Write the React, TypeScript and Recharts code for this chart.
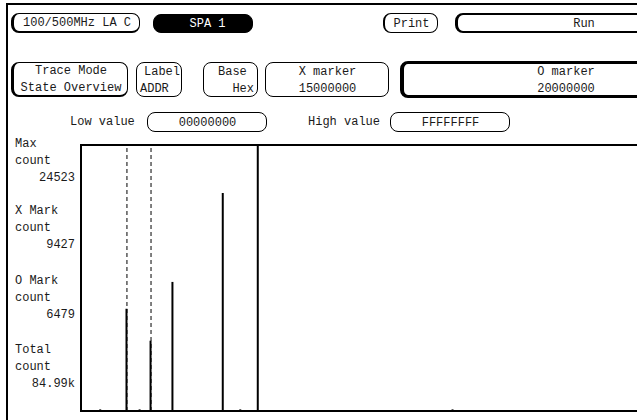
import React from 'react';
import {
  ComposedChart,
  Bar,
  XAxis,
  YAxis,
  ReferenceLine,
  ReferenceArea,
} from 'recharts';

// addresses in units of 0x01000000 (00000000..FFFFFFFF -> 0..255)
const addresses = [9, 21, 27, 32, 42, 65, 73, 81, 170];
const counts = [150, 9427, 150, 6479, 11900, 20100, 150, 24523, 150];

const X_MARKER = 0x15; // 15000000
const O_MARKER = 0x20; // 20000000
const MAX_COUNT = 24523;

const sideLabels = [
  ['Max', 'count', '24523'],
  ['X Mark', 'count', '9427'],
  ['O Mark', 'count', '6479'],
  ['Total', 'count', '84.99k'],
];
const sideLabelTops = [144, 211, 281, 350];

const data = addresses.map((a, i) => ({ addr: a, count: counts[i] }));

const FONT = '"Liberation Mono", "DejaVu Sans Mono", monospace';
const INK = '#1a1a1a';

function Btn({
  left,
  top,
  width,
  height,
  lines,
  bw = '1px',
  dark = false,
  align = 'center',
  padL = 4,
  indents = [],
}: {
  left: number;
  top: number;
  width: number;
  height: number;
  lines: string[];
  bw?: string;
  dark?: boolean;
  align?: 'center' | 'left' | 'right';
  padL?: number;
  indents?: number[];
}) {
  return (
    <div
      style={{
        position: 'absolute',
        left,
        top,
        width,
        height,
        boxSizing: 'border-box',
        borderStyle: 'solid',
        borderColor: '#000',
        borderWidth: bw,
        borderRadius: 8,
        background: dark ? '#000' : '#fff',
        color: dark ? '#fff' : INK,
        display: 'flex',
        flexDirection: 'column',
        justifyContent: 'center',
        alignItems:
          align === 'center' ? 'center' : align === 'left' ? 'flex-start' : 'flex-end',
        padding: `2px 3px 0 ${padL}px`,
        fontFamily: FONT,
        fontSize: 12,
        lineHeight: '17px',
        whiteSpace: 'pre',
        overflow: 'visible',
      }}
    >
      {lines.map((l, i) => (
        <div key={i} style={{ marginLeft: indents[i] || 0 }}>
          {l}
        </div>
      ))}
    </div>
  );
}

export default function App() {
  return (
    <div
      style={{
        position: 'fixed',
        left: 0,
        top: 0,
        width: 637,
        height: 420,
        overflow: 'hidden',
        background: '#fff',
      }}
    >
      {/* outer screen frame */}
      <div style={{ position: 'absolute', left: 6, top: 3, width: 640, height: 2, background: '#000' }} />
      <div style={{ position: 'absolute', left: 6, top: 3, width: 2, height: 420, background: '#000' }} />

      <Btn left={11} top={13} width={129} height={20} lines={['100/500MHz LA C']} bw="1px 1px 2px 3px" />
      <Btn left={153} top={14} width={100} height={19} lines={['SPA 1']} dark padL={12} />
      <Btn left={383} top={13} width={55} height={20} lines={['Print']} bw="1px 1px 1px 2px" />
      <Btn left={455} top={13} width={256} height={20} lines={['Run']} bw="2px 2px 2px 3px" />

      <Btn left={11} top={62} width={117} height={35} lines={['Trace Mode', 'State Overview']} bw="1px 1px 2px 3px" />
      <Btn left={136} top={62} width={46} height={35} lines={['Label', 'ADDR']} align="left" padL={3} indents={[4, 0]} />
      <Btn left={203} top={62} width={55} height={35} lines={['Base ', ' Hex']} align="right" />
      <Btn left={265} top={62} width={124} height={35} lines={['X marker', '15000000']} />
      <Btn left={400} top={61} width={330} height={37} lines={['O marker', '20000000']} bw="3px 3px 3px 4px" />

      <div
        style={{ position: 'absolute', left: 70, top: 115, fontFamily: FONT, fontSize: 12, color: INK }}
      >
        Low value
      </div>
      <Btn left={147} top={112} width={120} height={20} lines={['00000000']} />
      <div
        style={{ position: 'absolute', left: 308, top: 115, fontFamily: FONT, fontSize: 12, color: INK }}
      >
        High value
      </div>
      <Btn left={390} top={112} width={120} height={20} lines={['FFFFFFFF']} />

      {sideLabels.map((grp, gi) => (
        <div
          key={gi}
          style={{
            position: 'absolute',
            left: 15,
            top: sideLabelTops[gi] - 8,
            width: 60,
            fontFamily: FONT,
            fontSize: 12,
            lineHeight: '17px',
            color: INK,
            whiteSpace: 'pre',
          }}
        >
          <div>{grp[0]}</div>
          <div>{grp[1]}</div>
          <div style={{ textAlign: 'right' }}>{grp[2]}</div>
        </div>
      ))}

      <div style={{ position: 'absolute', left: 0, top: 0 }}>
        <ComposedChart
          width={640}
          height={420}
          data={data}
          margin={{ top: 145, right: 1, bottom: 9, left: 81 }}
        >
          <XAxis dataKey="addr" type="number" domain={[0, 255]} hide />
          <YAxis type="number" domain={[0, MAX_COUNT]} hide />
          <ReferenceArea
            x1={0}
            x2={255}
            y1={0}
            y2={MAX_COUNT}
            fill="none"
            stroke="#000"
            strokeWidth={2}
            fillOpacity={0}
          />
          <ReferenceLine x={X_MARKER} stroke="#000" strokeWidth={1} strokeDasharray="4 3" />
          <ReferenceLine x={O_MARKER} stroke="#000" strokeWidth={1} strokeDasharray="4 3" />
          <Bar dataKey="count" fill="#000" barSize={2} isAnimationActive={false} />
        </ComposedChart>
      </div>
    </div>
  );
}
